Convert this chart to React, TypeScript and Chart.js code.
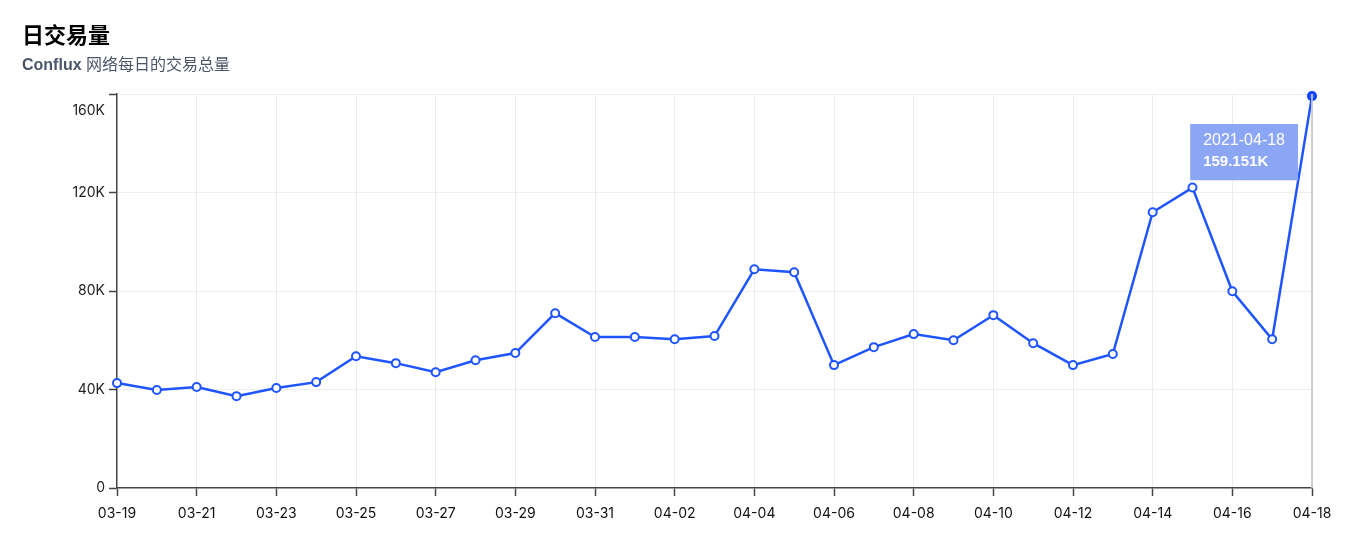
import React, { useEffect, useRef } from "react";
import { Chart, registerables, Tooltip } from "chart.js";

Chart.register(...registerables);

const dates: string[] = [
  "2021-03-19", "2021-03-20", "2021-03-21", "2021-03-22", "2021-03-23", "2021-03-24",
  "2021-03-25", "2021-03-26", "2021-03-27", "2021-03-28", "2021-03-29", "2021-03-30",
  "2021-03-31", "2021-04-01", "2021-04-02", "2021-04-03", "2021-04-04", "2021-04-05",
  "2021-04-06", "2021-04-07", "2021-04-08", "2021-04-09", "2021-04-10", "2021-04-11",
  "2021-04-12", "2021-04-13", "2021-04-14", "2021-04-15", "2021-04-16", "2021-04-17",
  "2021-04-18",
];

const txCounts: number[] = [
  42600, 39800, 41000, 37300, 40600, 43000, 53500, 50700, 47000, 51900, 54800, 71000,
  61300, 61300, 60400, 61700, 88800, 87600, 49900, 57200, 62500, 60000, 70200, 58800,
  49900, 54400, 112000, 122000, 79900, 60400, 159151,
];

const yTicks: number[] = [0, 40000, 80000, 120000, 160000];

const TITLE = "日交易量";
const SUBTITLE_BRAND = "Conflux";
const SUBTITLE_REST = " 网络每日的交易总量";

const BLUE = "#1f55ff";
const FONT = "'Liberation Sans', Arial, sans-serif";
const TICK_FONT = "Inter, 'Liberation Sans', sans-serif";

(Tooltip.positioners as any).leftBelow = function (elements: any[]) {
  if (!elements.length) return false;
  const el = elements[0].element;
  return { x: el.x - 14, y: el.y + 56 };
};

const crosshair = {
  id: "crosshair",
  afterDatasetsDraw(chart: any) {
    const active = chart.tooltip?.getActiveElements?.() || [];
    if (!active.length) return;
    const x = active[0].element.x;
    const { top, bottom } = chart.chartArea;
    const ctx = chart.ctx;
    ctx.save();
    ctx.strokeStyle = "rgba(200,200,200,0.85)";
    ctx.lineWidth = 2;
    ctx.beginPath();
    ctx.moveTo(x, top);
    ctx.lineTo(x, bottom);
    ctx.stroke();
    ctx.restore();
  },
};

function fmtK(v: number): string {
  if (v === 0) return "0";
  return v / 1000 + "K";
}

export default function App() {
  const ref = useRef<HTMLCanvasElement | null>(null);

  useEffect(() => {
    if (!ref.current) return;
    const last = txCounts.length - 1;
    const chart = new Chart(ref.current, {
      type: "line",
      data: {
        labels: dates,
        datasets: [
          {
            data: txCounts,
            borderColor: BLUE,
            borderWidth: 2.5,
            pointRadius: 4,
            pointBorderWidth: 2,
            pointBorderColor: BLUE,
            pointBackgroundColor: (c: any) => (c.dataIndex === last ? BLUE : "#ffffff"),
            pointHoverRadius: 4,
            pointHoverBorderWidth: 2,
            pointHoverBackgroundColor: BLUE,
            tension: 0,
            fill: false,
            clip: false as any,
          },
        ],
      },
      plugins: [crosshair],
      options: {
        animation: false,
        responsive: false,
        maintainAspectRatio: false,
        events: [],
        layout: { padding: { top: 94, right: 44, left: 0, bottom: 0 } },
        plugins: {
          legend: { display: false },
          title: { display: false },
          tooltip: {
            enabled: true,
            position: "leftBelow" as any,
            xAlign: "right",
            yAlign: "center",
            caretSize: 0,
            caretPadding: 0,
            cornerRadius: 0,
            displayColors: false,
            backgroundColor: "#8ca6f6",
            titleColor: "#ffffff",
            bodyColor: "#ffffff",
            titleFont: { family: FONT, size: 16, weight: "normal" },
            bodyFont: { family: FONT, size: 15, weight: "bold" },
            titleMarginBottom: 3,
            padding: { top: 7, bottom: 9, left: 13, right: 13 } as any,
            callbacks: {
              title: (items: any[]) => dates[items[0].dataIndex],
              label: (item: any) => (txCounts[item.dataIndex] / 1000).toFixed(3) + "K",
            },
          },
        },
        scales: {
          x: {
            type: "category",
            offset: false,
            afterFit: (s: any) => {
              s.height = 67;
            },
            border: { display: true, color: "#444", width: 1.5 },
            grid: {
              display: true,
              drawOnChartArea: true,
              color: (c: any) => (c.index % 2 === 0 && c.index !== 0 ? "#ececec" : "transparent"),
              tickColor: (c: any) => (c.index % 2 === 0 ? "#444" : "transparent"),
              tickLength: 8,
              tickWidth: 1.5,
            },
            ticks: {
              autoSkip: false,
              maxRotation: 0,
              padding: 9,
              color: "#111",
              font: { family: TICK_FONT, size: 14 },
              callback: (_v: any, i: number) => (i % 2 === 0 ? dates[i].slice(5) : ""),
            },
          },
          y: {
            min: 0,
            max: 160000,
            afterFit: (s: any) => {
              s.width = 117;
            },
            afterBuildTicks: (s: any) => {
              s.ticks = yTicks.map((v) => ({ value: v }));
            },
            border: { display: true, color: "#444", width: 1.5 },
            grid: {
              color: (c: any) => (c.index === 0 ? "transparent" : "#efefef"),
              tickColor: "#444",
              tickLength: 8,
              tickWidth: 1.5,
            },
            ticks: {
              padding: 4,
              color: "#222",
              font: { family: TICK_FONT, size: 14 },
              callback: (v: any) => (v === 160000 ? ["", "", fmtK(v)] : fmtK(v)),
            },
          },
        },
      },
    });
    const active = [{ datasetIndex: 0, index: last }];
    chart.setActiveElements(active);
    chart.tooltip?.setActiveElements(active, { x: 0, y: 0 });
    chart.update();
    return () => chart.destroy();
  }, []);

  return (
    <div>
      <div
        style={{
          position: "absolute",
          left: 0,
          top: 0,
          width: 1356,
          height: 555,
          background: "#fff",
        }}
      >
        <canvas ref={ref} width={1356} height={555} style={{ position: "absolute", left: 0, top: 0 }} />
        <div
          style={{
            position: "absolute",
            left: 22,
            top: 18,
            fontFamily: "'Noto Sans CJK SC', sans-serif",
            fontWeight: 700,
            fontSize: 22,
            lineHeight: "30px",
            color: "#000",
            whiteSpace: "nowrap",
          }}
        >
          {TITLE}
        </div>
        <div
          style={{
            position: "absolute",
            left: 22,
            top: 54,
            fontFamily: "'Liberation Sans', 'Noto Sans CJK SC', sans-serif",
            fontSize: 16,
            lineHeight: "22px",
            color: "#4a5568",
            whiteSpace: "nowrap",
          }}
        >
          <span style={{ fontWeight: 700 }}>{SUBTITLE_BRAND}</span>
          <span>{SUBTITLE_REST}</span>
        </div>
      </div>
    </div>
  );
}
